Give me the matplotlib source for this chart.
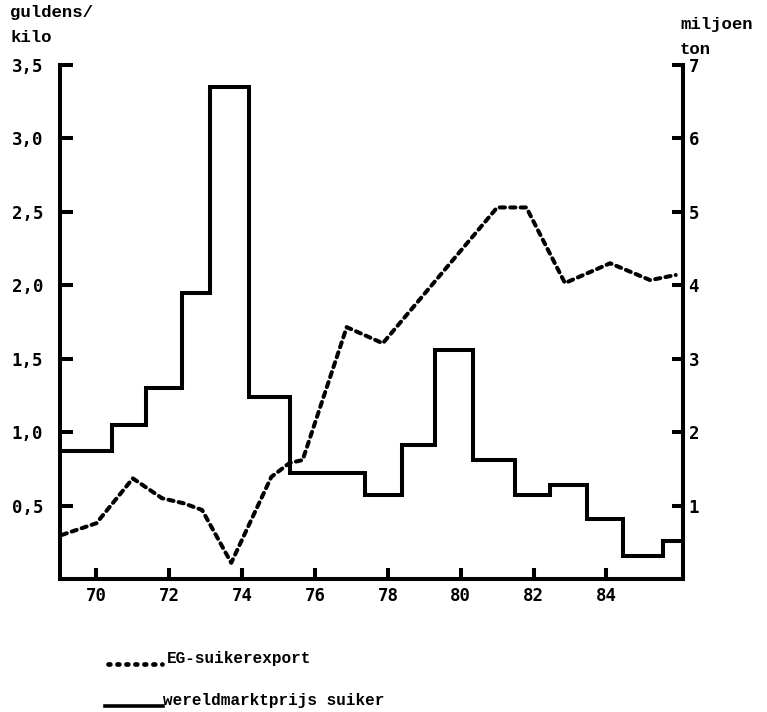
import matplotlib
matplotlib.use("Agg")
import matplotlib.pyplot as plt
from matplotlib.lines import Line2D
import numpy as np

# ---- data ----
# world market price of sugar (guldens/kilo), step chart: boundaries (year) and levels
price_edges = [68.9, 70.44, 71.37, 72.36, 73.13, 74.2, 75.3, 77.36, 78.4, 79.3,
               80.33, 81.5, 82.45, 83.46, 84.45, 85.55, 86.2]
price_values = [0.87, 1.05, 1.30, 1.95, 3.35, 1.24, 0.72, 0.57, 0.91, 1.56,
                0.81, 0.57, 0.64, 0.41, 0.16, 0.26]

# EC sugar export (million ton)
export_years = [69.05, 70.0, 71.0, 71.8, 72.4, 72.9, 73.7, 74.8, 75.3, 75.66,
                76.87, 77.86, 81.0, 81.8, 82.86, 84.1, 85.2, 85.9]
export_values = [0.60, 0.76, 1.37, 1.10, 1.03, 0.94, 0.22, 1.39, 1.58, 1.62,
                 3.43, 3.21, 5.06, 5.06, 4.03, 4.30, 4.07, 4.14]

x_ticks = [70, 72, 74, 76, 78, 80, 82, 84]
x_labels = ["70", "72", "74", "76", "78", "80", "82", "84"]
left_ticks = [0.5, 1.0, 1.5, 2.0, 2.5, 3.0, 3.5]
left_labels = ["0,5", "1,0", "1,5", "2,0", "2,5", "3,0", "3,5"]
right_ticks = [1, 2, 3, 4, 5, 6, 7]
right_labels = ["1", "2", "3", "4", "5", "6", "7"]

W, H = 767, 712
fig = plt.figure(figsize=(W / 100, H / 100), dpi=100)
fig.patch.set_facecolor("white")

x0, x1 = 60, 683
y_top, y_bot = 65, 579
ax = fig.add_axes([x0 / W, 1 - y_bot / H, (x1 - x0) / W, (y_bot - y_top) / H])
ax.set_xlim(69.0, 86.1)
ax.set_ylim(0, 3.5)
ax2 = ax.twinx()
ax2.set_ylim(0, 7)

LW = 2.9
tick_font = dict(family="DejaVu Sans Mono", weight="bold", size=12.5)
text_font = dict(family="Liberation Mono", weight="bold", size=12.5)

# solid step line
ax.stairs(price_values, price_edges, baseline=None, color="black",
          linewidth=LW, joinstyle="miter", zorder=3)

# dashed export line
ax2.plot(export_years, export_values, color="black", linewidth=2.9,
         dashes=(1.3, 1.3), dash_capstyle="round", zorder=3)

for a in (ax, ax2):
    a.spines["top"].set_visible(False)
    for s in a.spines.values():
        s.set_linewidth(LW)
        s.set_capstyle("projecting")

ax2.spines["left"].set_visible(False)
ax2.spines["bottom"].set_visible(False)
ax.spines["right"].set_visible(False)

ax.set_xticks(x_ticks)
ax.set_xticklabels(x_labels, **tick_font)
ax.set_yticks(left_ticks)
ax.set_yticklabels(left_labels, **tick_font)
ax2.set_yticks(right_ticks)
ax2.set_yticklabels(right_labels, **tick_font)

ax.tick_params(axis="x", direction="in", length=8, width=LW, pad=6)
ax.tick_params(axis="y", direction="in", length=9, width=LW, pad=12)
ax2.tick_params(axis="y", direction="in", length=8, width=LW, pad=4)

# axis titles
fig.text(10 / W, 1 - 12 / H, "guldens/", ha="left", va="center", **text_font)
fig.text(10 / W, 1 - 38 / H, "kilo", ha="left", va="center", **text_font)
fig.text(680 / W, 1 - 25 / H, "miljoen", ha="left", va="center", **text_font)
fig.text(680 / W, 1 - 49 / H, "ton", ha="left", va="center", **text_font)

# manual legend
legend_font = dict(family="Liberation Mono", weight="bold", size=11.5)
fig.add_artist(Line2D([108 / W, 162 / W], [1 - 664 / H, 1 - 664 / H],
                      transform=fig.transFigure, color="black", linewidth=3.4,
                      dashes=(0.4, 1.5), dash_capstyle="round"))
fig.text(167 / W, 1 - 659 / H, "EG-suikerexport", ha="left", va="center",
         **legend_font)
fig.add_artist(Line2D([105 / W, 163 / W], [1 - 706 / H, 1 - 706 / H],
                      transform=fig.transFigure, color="black", linewidth=2.6))
fig.text(163 / W, 1 - 700 / H, "wereldmarktprijs suiker", ha="left",
         va="center", **legend_font)

fig.savefig("out.png", dpi=100, facecolor="white")
